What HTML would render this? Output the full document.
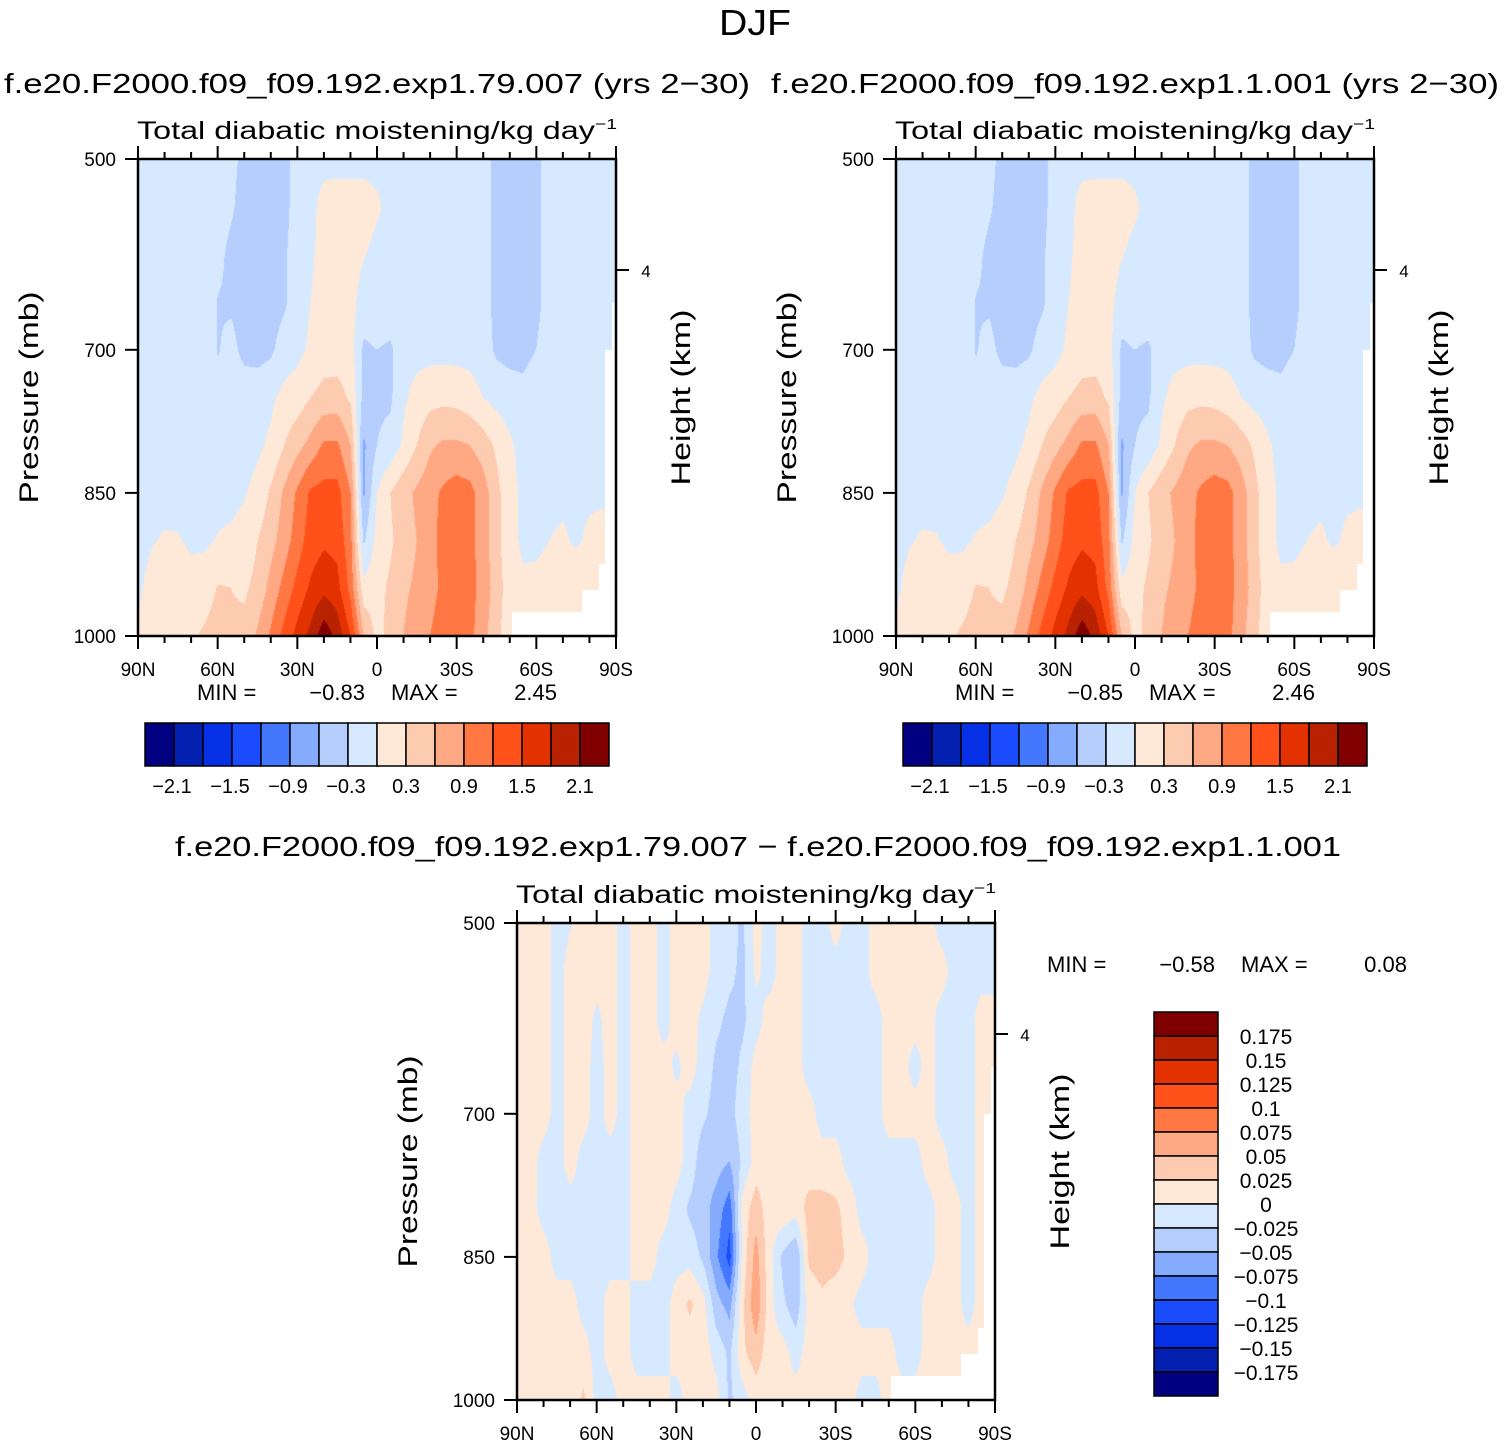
<!DOCTYPE html>
<html><head><meta charset="utf-8">
<style>
html,body{margin:0;padding:0;background:#fff;}
#wrap{position:relative;width:1504px;height:1445px;overflow:hidden;background:#fff;}
canvas{position:absolute;}
svg{position:absolute;left:0;top:0;}
text{font-family:"Liberation Sans",sans-serif;fill:#000;}
</style></head>
<body>
<div id="wrap">
<canvas id="cvA" width="478" height="477" style="left:138px;top:159px"></canvas>
<canvas id="cvB" width="478" height="477" style="left:896px;top:159px"></canvas>
<canvas id="cvC" width="478" height="477" style="left:517px;top:923px"></canvas>
<svg id="svg" width="1504" height="1445" xmlns="http://www.w3.org/2000/svg"></svg>
</div>
<script>
// ---- data ----
const latLabels = ['90N','60N','30N','0','30S','60S','90S'];
const pressureTicks = [500,700,850,1000];
const pressureTickLabels = ['500','700','850','1000'];
const levelsTop = [-2.1,-1.8,-1.5,-1.2,-0.9,-0.6,-0.3,0,0.3,0.6,0.9,1.2,1.5,1.8,2.1];
const levelsDiff = [-0.175,-0.15,-0.125,-0.1,-0.075,-0.05,-0.025,0,0.025,0.05,0.075,0.1,0.125,0.15,0.175];
const cbTopLabels = ['−2.1','−1.5','−0.9','−0.3','0.3','0.9','1.5','2.1'];
const cbDiffLabels = ['0.175','0.15','0.125','0.1','0.075','0.05','0.025','0','−0.025','−0.05','−0.075','−0.1','−0.125','−0.15','−0.175'];
const palette = ['#000080','#0420b0','#0530e6','#1a4cfe','#4377fe','#85abfe','#b5cefe','#d7e9fe','#fee9d8','#fdcbb0','#fea884','#ff7743','#ff5119','#e33200','#b82200','#800000'];
// latitudes 90N..90S step 5 (37), pressure levels 500..1000 step 50 (11)
const fieldTop = [
[-.1,-.1,-.1,-.1,-.1,-.1,-.1,-.2,-.4,-.4,-.4,-.4,-.15,-.1,-.1,-.1,-.1,-.1,-.1,-.1,-.1,-.1,-.1,-.1,-.1,-.1,-.15,-.4,-.4,-.4,-.4,-.15,-.1,-.1,-.1,-.1,-.1],
[-.1,-.1,-.1,-.1,-.1,-.1,-.1,-.25,-.45,-.45,-.45,-.4,-.15,-.1,.12,.15,.15,.15,.05,-.1,-.1,-.1,-.1,-.1,-.1,-.1,-.15,-.4,-.45,-.45,-.4,-.15,-.1,-.1,-.1,-.1,-.1],
[-.1,-.1,-.1,-.1,-.1,-.1,-.2,-.4,-.45,-.45,-.45,-.35,-.12,-.05,.12,.15,.15,.02,-.1,-.1,-.1,-.1,-.1,-.1,-.1,-.1,-.15,-.4,-.45,-.45,-.4,-.15,-.1,-.1,-.1,-.1,-.1],
[-.1,-.1,-.1,-.1,-.1,-.1,-.32,-.35,-.45,-.45,-.45,-.35,-.12,.0,.15,.15,.12,-.15,-.1,-.1,-.1,-.1,-.1,-.1,-.1,-.1,-.15,-.4,-.45,-.45,-.4,-.15,-.1,-.1,-.1,-.1,-.1],
[-.1,-.1,-.1,-.1,-.1,-.1,-.32,-.2,-.4,-.42,-.35,-.15,-.08,.05,.15,.15,.12,-.35,-.3,-.35,-.12,-.1,-.1,-.1,-.1,-.1,-.15,-.35,-.4,-.4,-.3,-.12,-.1,-.1,-.1,-.1,-.1],
[-.1,-.1,-.1,-.1,-.1,-.1,-.2,-.1,-.1,-.1,-.05,.08,.15,.3,.4,.42,.25,-.4,-.35,-.35,-.05,.1,.2,.22,.2,.12,.0,-.1,-.15,-.2,-.12,-.1,-.1,-.1,-.1,-.1,-.1],
[-.1,-.1,-.1,-.1,-.1,-.1,-.1,-.1,-.1,-.05,.05,.3,.5,.7,.95,.95,.6,-.65,-.3,-.2,.05,.3,.55,.65,.65,.6,.45,.25,.05,-.1,-.1,-.1,-.1,-.1,-.1,-.1,-.1],
[-.1,-.1,-.1,-.1,-.1,-.1,-.1,-.08,-.02,.08,.35,.65,.95,1.25,1.3,1.3,.9,-.65,0,.3,.5,.65,.8,.95,1.05,1,.75,.4,.1,-.05,-.1,-.1,-.08,-.05,-.05,-.05,-.05],
[-.1,-.02,.03,.02,-.05,-.05,.02,.05,.1,.3,.5,.75,1.05,1.35,1.45,1.4,1,-.35,.1,.25,.45,.6,.8,1,1.05,1,.75,.4,.1,-.05,-.08,0,.05,-.05,.05,.1,.1],
[-.05,.1,.15,.15,.12,.15,.32,.3,.25,.4,.7,1,1.3,1.55,1.7,1.6,1.1,.1,.2,.35,.55,.65,.75,1,1.05,1,.8,.45,.15,.05,.1,.15,.2,.25,.3,.3,.3],
[.05,.15,.2,.2,.25,.35,.45,.35,.4,.65,.95,1.3,1.6,1.9,2.3,2,1.5,.6,.2,.4,.6,.75,.9,1.1,1.2,1,.7,.4,.1,.1,.1,.1,.1,.1,.1,.1,.1]
];
const fieldCtl = fieldTop;
const P = 0.01, B = -0.01;
const fieldDiff = [
[P,P,P,B,-.002,P,P,P,B,P,P,B,P,P,P,B,-.015,-.03,P,B,P,P,B,B,P,B,B,P,P,P,P,P,B,B,B,B,B],
[P,P,P,B,P,P,P,P,B,P,P,B,P,P,P,B,-.02,-.03,.005,B,P,P,B,B,B,B,B,P,P,P,P,P,P,B,B,B,B],
[P,P,P,B,P,P,-.005,P,B,P,P,B,P,P,-.005,-.02,-.03,-.03,B,P,P,P,B,B,B,B,B,B,P,P,P,P,B,B,B,P,P],
[P,P,P,B,P,P,B,P,B,P,P,P,-.005,P,B,-.03,-.035,-.02,P,P,P,P,B,B,B,B,B,B,P,P,B,P,B,B,B,P,P],
[P,P,P,B,P,P,B,P,B,P,P,P,P,B,-.02,-.035,-.035,-.01,P,P,P,P,P,B,B,B,B,B,P,P,P,P,B,B,B,P,P],
[P,P,B,B,P,B,B,B,B,P,P,P,P,B,-.04,-.04,-.05,-.02,P,P,P,.02,P,P,P,B,B,B,B,B,B,P,P,B,B,P,P],
[P,P,B,B,B,B,B,B,B,P,P,P,B,-.03,-.04,-.06,-.09,.01,.04,.01,.02,.01,.035,.035,.03,.015,B,B,B,B,B,B,P,P,B,P,P],
[P,P,P,B,B,B,B,B,B,P,P,B,B,B,-.03,-.07,-.11,.01,.06,.01,-.03,-.05,.03,.035,.035,.02,.01,B,B,B,B,B,P,P,B,P,P],
[P,P,P,P,P,B,B,P,P,B,B,B,P,.03,.01,-.04,-.06,.02,.07,.01,-.02,-.04,.01,.02,.01,.005,B,B,B,B,B,P,P,P,B,P,P],
[P,P,P,P,P,P,B,P,P,B,B,B,P,.01,.015,-.01,-.03,.02,.04,.01,P,B,P,P,P,P,P,P,P,B,B,P,P,P,P,P,P],
[P,P,P,P,P,.03,B,B,P,P,P,P,B,P,P,P,-.03,B,P,P,P,P,P,P,P,P,B,B,P,P,P,P,P,P,P,P,P]
];

// ---- field rendering ----
function colorIndex(v, lv){ let k=0; while(k<lv.length && v>=lv[k]) k++; return k; }
function hexRgb(h){ return [parseInt(h.substr(1,2),16),parseInt(h.substr(3,2),16),parseInt(h.substr(5,2),16)]; }
const rgbPal = palette.map(hexRgb);
function drawField(id, field, lv){
  const cv=document.getElementById(id), ctx=cv.getContext('2d');
  const W=cv.width,H=cv.height, img=ctx.createImageData(W,H);
  const nx=field[0].length-1, ny=field.length-1;
  for(let py=0;py<H;py++){
    const fy=py/(H-1)*ny, j=Math.min(Math.floor(fy),ny-1), ty=fy-j;
    for(let px=0;px<W;px++){
      const fx=px/(W-1)*nx, i=Math.min(Math.floor(fx),nx-1), tx=fx-i;
      const v=(field[j][i]*(1-tx)+field[j][i+1]*tx)*(1-ty)+(field[j+1][i]*(1-tx)+field[j+1][i+1]*tx)*ty;
      const c=rgbPal[colorIndex(v,lv)], o=(py*W+px)*4;
      img.data[o]=c[0];img.data[o+1]=c[1];img.data[o+2]=c[2];img.data[o+3]=255;
    }
  }
  ctx.putImageData(img,0,0);
}
drawField('cvA',fieldTop,levelsTop);
drawField('cvB',fieldCtl,levelsTop);
drawField('cvC',fieldDiff,levelsDiff);

// ---- svg overlay ----
const NS='http://www.w3.org/2000/svg', svg=document.getElementById('svg');
function el(tag,attrs,parent){ const e=document.createElementNS(NS,tag); for(const k in attrs) e.setAttribute(k,attrs[k]); (parent||svg).appendChild(e); return e; }
function txt(s,x,y,size,anchor,extra){ const t=el('text',Object.assign({x:x,y:y,'font-size':size,'text-anchor':anchor||'middle'},extra||{})); t.textContent=s; return t; }

const W=478,H=477;
function xScale(x0,lat){ return x0 + (90-lat)/180*W; }
function yScale(y0,p){ return y0 + (p-500)/500*H; }

function panel(x0,y0,name){
  const g=el('g',{});
  
  
  const m=el('path',{d:`M${x0+W-104} ${y0+H} L${x0+W-104} ${y0+H-24} L${x0+W-34} ${y0+H-24} L${x0+W-34} ${y0+H-46} L${x0+W-17} ${y0+H-46} L${x0+W-17} ${y0+H-72} L${x0+W-11} ${y0+H-72} L${x0+W-11} ${y0+191} L${x0+W-4} ${y0+191} L${x0+W-4} ${y0+144} L${x0+W} ${y0+144} L${x0+W} ${y0+H} Z`,fill:'#fff'},g);
  
  
  const fr=el('rect',{x:x0,y:y0,width:W,height:H,fill:'none',stroke:'#000','stroke-width':2.5},g);
  
  
  for(let lat=90;lat>=-90;lat-=10){
    const x=xScale(x0,lat), major=(lat%30===0), len=major?13:7;
    el('line',{x1:x,y1:y0,x2:x,y2:y0-len,stroke:'#000','stroke-width':2},g);
    el('line',{x1:x,y1:y0+H,x2:x,y2:y0+H+len,stroke:'#000','stroke-width':2},g);
  }
  latLabels.forEach((s,k)=>{
    const t=txt(s,x0+k*W/6,y0+H+40,19,'middle');
    g.appendChild(t);
    
    
  });
  pressureTicks.forEach((p,k)=>{
    const y=yScale(y0,p);
    el('line',{x1:x0,y1:y,x2:x0-13,y2:y,stroke:'#000','stroke-width':2},g);
    const t=txt(pressureTickLabels[k],x0-22,y+7,19,'end');
    g.appendChild(t);
    
    
  });
  el('line',{x1:x0+W,y1:y0+111,x2:x0+W+13,y2:y0+111,stroke:'#000','stroke-width':2},g);
  txt('4',x0+W+30,y0+118,17,'middle');
  const yl=txt('Pressure (mb)',0,0,27,'middle',{transform:`translate(${x0-100},${y0+H/2}) rotate(-90)`,textLength:212,lengthAdjust:'spacingAndGlyphs'});
  
  
  const yr=txt('Height (km)',0,0,27,'middle',{transform:`translate(${x0+W+74},${y0+H/2}) rotate(-90)`,textLength:176,lengthAdjust:'spacingAndGlyphs'});
  
  
  const t=el('text',{x:x0+W/2,y:y0-20,'font-size':25,'text-anchor':'middle'});
  
  
  t.textContent='Total diabatic moistening/kg day';
  const sup=el('tspan',{'font-size':15,dy:-10},t); sup.textContent='−1';
  t.setAttribute('textLength',480); t.setAttribute('lengthAdjust','spacingAndGlyphs');
}
panel(138,159,'panel-exp79');
panel(896,159,'panel-exp1');
panel(517,923,'panel-difference');

let tt=txt('DJF',755,35,36,'middle',{textLength:72,lengthAdjust:'spacingAndGlyphs'});


tt=txt('f.e20.F2000.f09_f09.192.exp1.79.007 (yrs 2−30)',377,93,28,'middle',{textLength:746,lengthAdjust:'spacingAndGlyphs'});


tt=txt('f.e20.F2000.f09_f09.192.exp1.1.001 (yrs 2−30)',1135,93,28,'middle',{textLength:728,lengthAdjust:'spacingAndGlyphs'});


tt=txt('f.e20.F2000.f09_f09.192.exp1.79.007 − f.e20.F2000.f09_f09.192.exp1.1.001',758,856,28,'middle',{textLength:1166,lengthAdjust:'spacingAndGlyphs'});



function minmax(x,y,minv,maxv,name){
  const g=el('g',{});
  
  
  g.appendChild(txt('MIN =',x,y,22,'start'));
  g.appendChild(txt(minv,x+168,y,22,'end'));
  g.appendChild(txt('MAX =',x+194,y,22,'start'));
  g.appendChild(txt(maxv,x+360,y,22,'end'));
}
minmax(197,700,'−0.83','2.45','minmax-left');
minmax(955,700,'−0.85','2.46','minmax-right');
minmax(1047,972,'−0.58','0.08','minmax-diff');

function hbar(x0,y0,name){
  const g=el('g',{});
  
  
  const bw=29;
  palette.forEach((c,k)=>{
    const r=el('rect',{x:x0+k*bw,y:y0,width:bw,height:43,fill:c,stroke:'#000','stroke-width':1.5},g);
    
    
  });
  cbTopLabels.forEach((s,k)=>{
    const t=txt(s,x0+bw*(1+2*k)+(s[0]==='−'?-2:0),y0+70,20,'middle');
    g.appendChild(t);
    
    
  });
}
hbar(145,723,'colorbar-left');
hbar(903,723,'colorbar-right');

(function(){
  const g=el('g',{});
  
  
  const x0=1154,y0=1012,bh=24;
  palette.slice().reverse().forEach((c,k)=>{
    const r=el('rect',{x:x0,y:y0+k*bh,width:64,height:bh,fill:c,stroke:'#000','stroke-width':1.5},g);
    
    
  });
  cbDiffLabels.forEach((s,k)=>{
    const t=txt(s,1266,y0+(k+1)*bh+8,21,'middle');
    g.appendChild(t);
    
    
  });
})();
</script>
</body></html>
